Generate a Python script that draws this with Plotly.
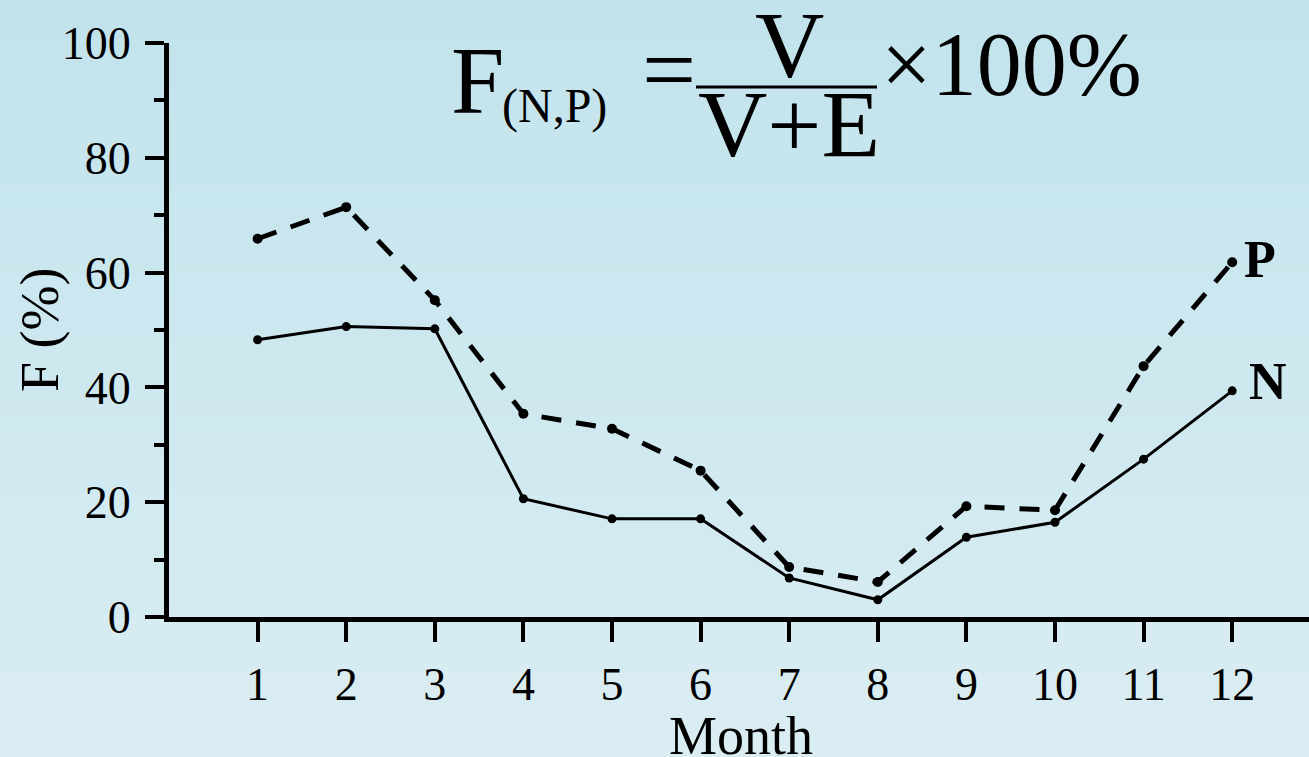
import plotly.graph_objects as go

# Monthly share F (%) for nitrogen and phosphorus
months = [1, 2, 3, 4, 5, 6, 7, 8, 9, 10, 11, 12]
month_labels = ["1", "2", "3", "4", "5", "6", "7", "8", "9", "10", "11", "12"]
f_n = [48.3, 50.6, 50.2, 20.6, 17.1, 17.1, 6.8, 3.0, 13.9, 16.5, 27.5, 39.4]
f_p = [65.9, 71.4, 55.2, 35.4, 32.8, 25.5, 8.7, 6.1, 19.3, 18.6, 43.7, 61.8]
y_ticks = [0, 20, 40, 60, 80, 100]

W, H = 1309, 757
ML, MR, MT, MB = 169, 0, 43, 140
PW, PH = W - ML - MR, H - MT - MB
X_MAX = PW / 88.6

SERIF = "Liberation Serif, Times New Roman, serif"


def px(x):
    return (x - ML) / PW


def py(y):
    return (H - MB - y) / PH


fig = go.Figure()

fig.add_trace(go.Scatter(
    x=months, y=f_p, mode="lines+markers", name="P",
    line=dict(color="black", width=5, dash="20px,15px"),
    marker=dict(color="black", size=10),
    cliponaxis=False,
))
fig.add_trace(go.Scatter(
    x=months, y=f_n, mode="lines+markers", name="N",
    line=dict(color="black", width=3),
    marker=dict(color="black", size=9),
    cliponaxis=False,
))

# vertical background gradient
top = (194, 227, 236)
bot = (218, 237, 243)
bands = 80
shapes = []
for i in range(bands):
    t = i / (bands - 1)
    c = tuple(round(top[k] + (bot[k] - top[k]) * t) for k in range(3))
    y0 = i * H / bands
    y1 = (i + 1) * H / bands + 1
    shapes.append(dict(
        type="rect", xref="paper", yref="paper", layer="below",
        x0=px(-2), x1=px(W + 2), y0=py(y1), y1=py(y0),
        line=dict(width=0), fillcolor="rgb(%d,%d,%d)" % c,
    ))

# fraction bar in the formula
shapes.append(dict(
    type="line", xref="paper", yref="paper",
    x0=px(696), x1=px(877), y0=py(87), y1=py(87),
    line=dict(color="black", width=3),
))

ann = []


def text(s, x, y, size, xanchor="left", bold=False, angle=0, height=None):
    a = dict(
        text=("<b>%s</b>" % s) if bold else s,
        x=px(x), y=py(y), xref="paper", yref="paper",
        xanchor=xanchor, yanchor="middle", showarrow=False,
        textangle=angle,
        font=dict(family=SERIF, size=size, color="black"),
    )
    if height is not None:
        a["height"] = height
    ann.append(a)


# formula F(N,P) = V / (V+E) x 100%
text("F", 449, 80, 96)
text("(N,P)", 500, 106, 48)
text("=", 640, 70, 96)
text("V", 789, 45, 96, xanchor="center", height=66)
text("V+E", 789, 124, 96, xanchor="center", height=66)
text("×100%", 879, 64, 90)

# series labels
text("P", 1242, 259, 52, bold=True)
text("N", 1247, 382, 52, bold=True)

# axis titles
text("Month", 741, 736, 54, xanchor="center", height=40)
text("F (%)", 40, 330, 54, xanchor="center", angle=-90)

fig.update_layout(
    width=W, height=H,
    margin=dict(l=ML, r=MR, t=MT, b=MB, pad=0),
    paper_bgcolor="rgba(0,0,0,0)",
    plot_bgcolor="rgba(0,0,0,0)",
    showlegend=False,
    shapes=shapes,
    annotations=ann,
    font=dict(family=SERIF, color="black"),
)

fig.update_xaxes(
    range=[0, X_MAX],
    tickvals=months, ticktext=month_labels,
    ticks="outside", ticklen=20, tickwidth=4, tickcolor="black",
    ticklabelstandoff=3,
    tickfont=dict(family=SERIF, size=46, color="black"),
    showline=True, linecolor="black", linewidth=5,
    showgrid=False, zeroline=False,
)
fig.update_yaxes(
    range=[0, 100],
    tickvals=y_ticks,
    ticks="outside", ticklen=19, tickwidth=4, tickcolor="black",
    ticklabelstandoff=5,
    tickfont=dict(family=SERIF, size=46, color="black"),
    showline=True, linecolor="black", linewidth=5,
    showgrid=False, zeroline=False,
    minor=dict(dtick=10, ticks="outside", ticklen=10, tickwidth=4,
               tickcolor="black", showgrid=False),
)

fig.write_html("out.html")
